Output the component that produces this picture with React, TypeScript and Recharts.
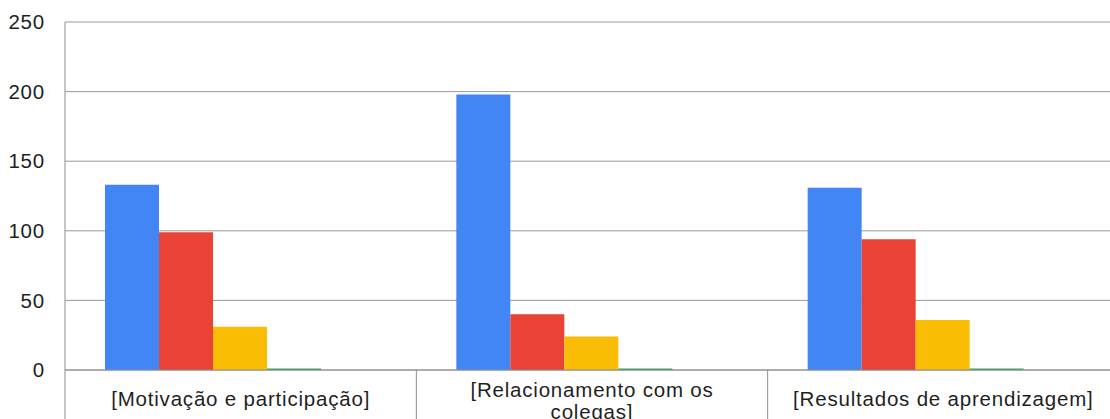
import React from 'react';
import { BarChart, Bar, XAxis, YAxis, CartesianGrid } from 'recharts';

const categories = [
  '[Motivação e participação]',
  '[Relacionamento com os colegas]',
  '[Resultados de aprendizagem]',
];
const serie1 = [133, 198, 131];
const serie2 = [99, 40, 94];
const serie3 = [31, 24, 36];
const serie4 = [1, 1, 1];
const serie5 = [0, 0, 0];
const yTicks = [0, 50, 100, 150, 200, 250];

const seriesKeys = ['s1', 's2', 's3', 's4', 's5'];
const seriesColors = ['#4285f4', '#ea4335', '#fbbc04', '#34a853', '#ff6d01'];

const data = categories.map((name, i) => ({
  name,
  s1: serie1[i],
  s2: serie2[i],
  s3: serie3[i],
  s4: serie4[i],
  s5: serie5[i],
}));

const CHART_W = 1120;
const CHART_H = 460;
const LEFT = 65;
const RIGHT = 1;
const BAND = (CHART_W - LEFT - RIGHT) / categories.length;
const FONT = '"Liberation Sans", Arial, sans-serif';

// naive word wrap by character count
const wrap = (text: string, max: number) => {
  const lines: string[] = [];
  let cur = '';
  text.split(' ').forEach((w) => {
    const next = cur ? cur + ' ' + w : w;
    if (next.length > max && cur) {
      lines.push(cur);
      cur = w;
    } else cur = next;
  });
  if (cur) lines.push(cur);
  return lines;
};

const CategoryTick = (props: any) => {
  const { x, y, payload } = props;
  const lines = wrap(String(payload.value), 29);
  const first = lines.length > 1 ? 27 : 36;
  const sep = x - BAND / 2;
  return (
    <g>
      <line x1={sep} x2={sep} y1={y} y2={y + 120} stroke="#8c8c8c" strokeWidth={1} />
      <text x={x} y={y + first} textAnchor="middle" fontSize={20.5} letterSpacing={0.8} fill="#1f1f1f" fontFamily={FONT}>
        {lines.map((l, i) => (
          <tspan key={i} x={x} dy={i === 0 ? 0 : 22}>{l}</tspan>
        ))}
      </text>
    </g>
  );
};

export default function App() {
  return (
    <div style={{ position: 'absolute', left: 0, top: 0, width: 1110, height: 419, overflow: 'hidden', background: '#fff' }}>
      <BarChart
        width={CHART_W}
        height={CHART_H}
        data={data}
        margin={{ top: 22, right: RIGHT, left: 0, bottom: 0 }}
        barCategoryGap={40}
        barGap={0}
        style={{ fontFamily: FONT }}
      >
        <CartesianGrid vertical={false} stroke="#9a9a9a" strokeWidth={1} />
        <XAxis
          dataKey="name"
          height={90}
          axisLine={{ stroke: '#8c8c8c' }}
          tickLine={false}
          tickSize={0}
          tickMargin={0}
          interval={0}
          tick={<CategoryTick />}
        />
        <YAxis
          width={LEFT}
          domain={[0, 250]}
          ticks={yTicks}
          axisLine={{ stroke: '#8c8c8c' }}
          tickLine={false}
          tickMargin={14}
          tick={{ fontSize: 20.5, letterSpacing: 0.8, fill: '#1f1f1f', fontFamily: FONT }}
        />
        {seriesKeys.map((k, i) => (
          <Bar key={k} dataKey={k} fill={seriesColors[i]} isAnimationActive={false} />
        ))}
      </BarChart>
    </div>
  );
}
